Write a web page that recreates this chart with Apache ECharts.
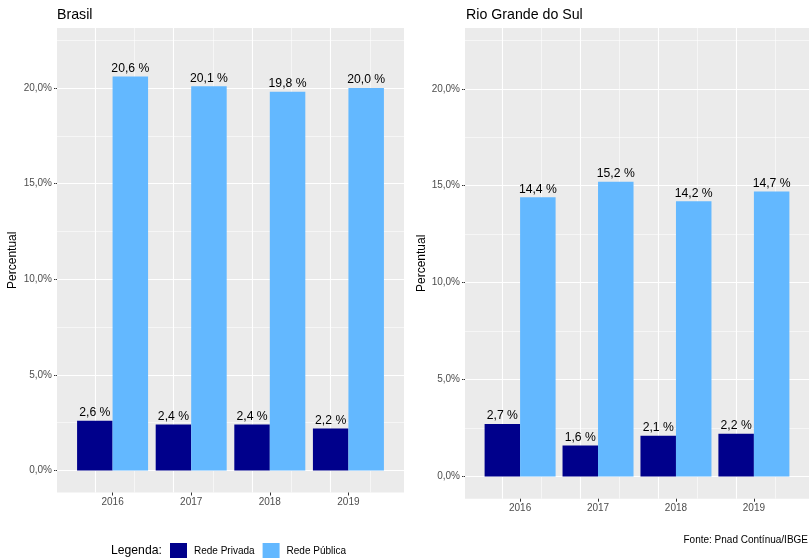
<!DOCTYPE html>
<html>
<head>
<meta charset="utf-8">
<script src="https://cdn.jsdelivr.net/npm/echarts@6/dist/echarts.min.js"></script>
<style>
html,body{margin:0;padding:0;background:#fff;}
#chart{width:809px;height:558px;}
</style>
</head>
<body>
<div id="chart"></div>
<script>
const years = [2016, 2017, 2018, 2019];
const brasilPrivada = [2.6, 2.4, 2.4, 2.2];
const brasilPublica = [20.6, 20.1, 19.8, 20.0];
const rsPrivada = [2.7, 1.6, 2.1, 2.2];
const rsPublica = [14.4, 15.2, 14.2, 14.7];
const yTicks = [0, 5, 10, 15, 20];
const yMinor = [2.5, 7.5, 12.5, 17.5, 22.5];
const xMinor = [2015.5, 2016.5, 2017.5, 2018.5, 2019.5];
const panelTitles = ['Brasil', 'Rio Grande do Sul'];
const seriesNames = ['Rede Privada', 'Rede Pública'];

const FONT = "'Liberation Sans', Arial, sans-serif";
const colPriv = '#00008B';
const colPub = '#63B8FF';

function fmtPct(v) { return v.toFixed(1).replace('.', ',') + '%'; }
function fmtLbl(v) { return v.toFixed(1).replace('.', ',') + ' %'; }

const grids = [
  {left: 57, top: 28, width: 347, height: 464.5},
  {left: 465, top: 28, width: 347, height: 470.7}
];
const nameGaps = [38.5, 30];

function gridMarkLines() {
  const d = [];
  yTicks.forEach(v => d.push({yAxis: v, lineStyle: {width: 1.1}}));
  yMinor.forEach(v => d.push({yAxis: v, lineStyle: {width: 0.55}}));
  years.forEach(v => d.push({xAxis: v, lineStyle: {width: 1.1}}));
  xMinor.forEach(v => d.push({xAxis: v, lineStyle: {width: 0.55}}));
  return {
    silent: true, symbol: 'none', z: 1,
    label: {show: false},
    lineStyle: {color: '#FFFFFF', type: 'solid'},
    emphasis: {disabled: true},
    animation: false,
    data: d
  };
}

const xAxes = grids.map((g, i) => ({
  type: 'value', gridIndex: i, min: 2015.293, max: 2019.707, position: 'bottom',
  axisLine: {show: false, onZero: false},
  splitLine: {show: false},
  axisTick: {show: true, length: 3, customValues: years, lineStyle: {color: '#333333', width: 1}},
  axisLabel: {show: true, customValues: years, margin: 5, color: '#4D4D4D', fontSize: 10, fontFamily: FONT,
    formatter: v => String(v)}
}));

const yAxes = grids.map((g, i) => ({
  type: 'value', gridIndex: i, min: -1.15, max: 23.14, position: 'left',
  name: 'Percentual', nameLocation: 'middle', nameRotate: 90, nameGap: nameGaps[i],
  nameTextStyle: {fontSize: 12, color: '#000', fontFamily: FONT},
  axisLine: {show: false, onZero: false},
  splitLine: {show: false},
  axisTick: {show: true, length: 3, customValues: yTicks, lineStyle: {color: '#333333', width: 1}},
  axisLabel: {show: true, customValues: yTicks, margin: 5, color: '#4D4D4D', fontSize: 10, fontFamily: FONT,
    formatter: v => fmtPct(v)}
}));

function barSeries(name, vals, color, gi, withGrid) {
  const s = {
    type: 'bar', name: name, xAxisIndex: gi, yAxisIndex: gi,
    data: years.map((y, k) => [y, vals[k]]),
    barWidth: 35.5, barGap: '0%', z: 2,
    itemStyle: {color: color},
    label: {show: true, position: 'top', distance: 2, color: '#000', fontSize: 12.2, fontFamily: FONT,
      formatter: p => fmtLbl(p.value[1])},
    emphasis: {disabled: true},
    animation: false
  };
  if (withGrid) s.markLine = gridMarkLines();
  return s;
}

const option = {
  animation: false,
  backgroundColor: '#FFFFFF',
  textStyle: {fontFamily: FONT},
  title: [
    {text: panelTitles[0], left: 57, top: 8, padding: 0, textStyle: {fontSize: 14.2, fontWeight: 'normal', color: '#000', fontFamily: FONT}},
    {text: panelTitles[1], left: 466, top: 8, padding: 0, textStyle: {fontSize: 14.2, fontWeight: 'normal', color: '#000', fontFamily: FONT}},
    {text: 'Fonte: Pnad Contínua/IBGE', right: 1, top: 535, padding: 0, textStyle: {fontSize: 10, fontWeight: 'normal', color: '#000', fontFamily: FONT}},
    {text: 'Legenda:', left: 111, top: 545, padding: 0, textStyle: {fontSize: 12.2, fontWeight: 'normal', color: '#000', fontFamily: FONT}}
  ],
  legend: {
    left: 170, top: 543, padding: 0, itemWidth: 17, itemHeight: 17, itemGap: 8, icon: 'rect',
    selectedMode: false,
    textStyle: {fontSize: 10, color: '#000', fontFamily: FONT, padding: [0, 0, 0, 2]},
    data: seriesNames
  },
  grid: grids.map(g => Object.assign({show: true, backgroundColor: '#EBEBEB', borderWidth: 0, containLabel: false}, g)),
  xAxis: xAxes,
  yAxis: yAxes,
  series: [
    barSeries(seriesNames[0], brasilPrivada, colPriv, 0, true),
    barSeries(seriesNames[1], brasilPublica, colPub, 0, false),
    barSeries(seriesNames[0], rsPrivada, colPriv, 1, true),
    barSeries(seriesNames[1], rsPublica, colPub, 1, false)
  ]
};

const chart = echarts.init(document.getElementById('chart'), null, {renderer: 'canvas'});
chart.setOption(option);
</script>
</body>
</html>
